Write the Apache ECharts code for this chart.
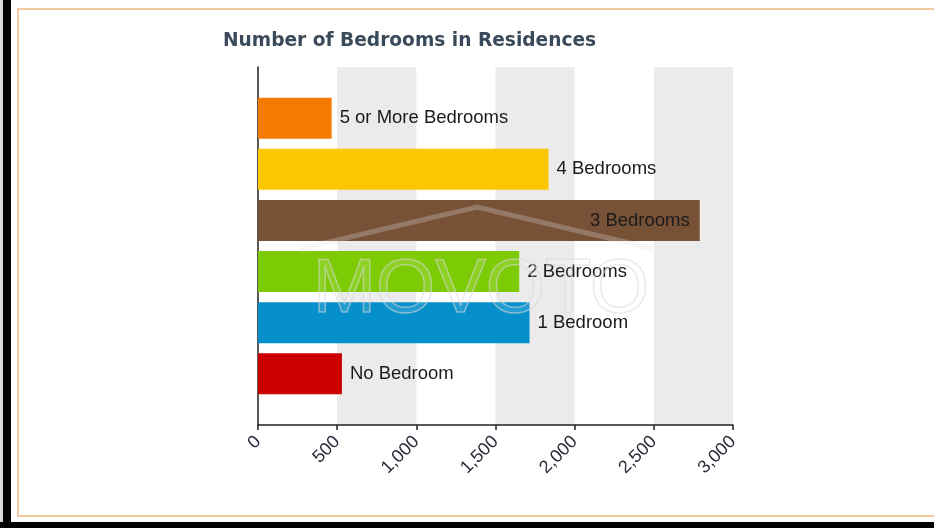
<!DOCTYPE html>
<html>
<head>
<meta charset="utf-8">
<script src="https://cdn.jsdelivr.net/npm/echarts@6/dist/echarts.min.js"></script>
<style>
html,body{margin:0;padding:0;background:#fff;}
#chart{width:934px;height:528px;}
</style>
</head>
<body>
<div id="chart"></div>
<script>
// Data (first item is drawn at the bottom)
const categories = ['No Bedroom', '1 Bedroom', '2 Bedrooms', '3 Bedrooms', '4 Bedrooms', '5 or More Bedrooms'];
const values = [530, 1715, 1650, 2790, 1835, 465];
const barColors = ['#CC0000', '#0590CB', '#7DCB05', '#775237', '#FDC602', '#F57A00'];
const xTicks = [0, 500, 1000, 1500, 2000, 2500, 3000];
const titleText = 'Number of Bedrooms in Residences';

const chart = echarts.init(document.getElementById('chart'), null, {renderer: 'canvas'});

const yData = [''].concat(categories).concat(['']);
const seriesData = ['-'].concat(values.map((v, i) => ({
  value: v,
  itemStyle: {color: barColors[i]},
  label: v > 2500 ? {position: 'insideRight', distance: 10} : {position: 'right', distance: 8}
}))).concat(['-']);

const option = {
  backgroundColor: '#fff',
  animation: false,
  title: {
    text: titleText,
    left: 218,
    top: 27,
    textStyle: {fontFamily: 'DejaVu Sans', fontWeight: 'bold', fontSize: 18.6, color: '#3B4A5B'}
  },
  grid: {left: 258, right: 201, top: 67, bottom: 103, containLabel: false},
  xAxis: {
    type: 'value',
    min: xTicks[0],
    max: xTicks[xTicks.length - 1],
    interval: 500,
    axisLine: {show: true, lineStyle: {color: '#222', width: 1.5}},
    axisTick: {show: true, length: 5, lineStyle: {color: '#222', width: 1.5}},
    axisLabel: {rotate: 45, margin: 14, color: '#2a2a3a', fontFamily: 'Liberation Sans', fontSize: 18},
    splitLine: {show: false},
    splitArea: {show: true, areaStyle: {color: ['rgba(255,255,255,0)', '#EBEBEB']}}
  },
  yAxis: {
    type: 'category',
    data: yData,
    boundaryGap: false,
    axisLine: {show: true, lineStyle: {color: '#222', width: 1.5}},
    axisTick: {show: false},
    axisLabel: {show: false},
    splitLine: {show: false}
  },
  series: [{
    type: 'bar',
    data: seriesData,
    barWidth: 41,
    label: {
      show: true,
      color: '#1a1a1a',
      fontFamily: 'Liberation Sans',
      fontSize: 18.5,
      formatter: p => categories[p.dataIndex - 1]
    }
  }],
  graphic: [
    {type: 'rect', silent: true, shape: {x: 0, y: 0, width: 3, height: 528}, style: {fill: '#d8d8d8'}},
    {type: 'rect', silent: true, shape: {x: 3, y: 0, width: 8, height: 528}, style: {fill: '#000'}},
    {type: 'rect', silent: true, shape: {x: 0, y: 522, width: 934, height: 6}, style: {fill: '#000'}},
    {type: 'rect', silent: true, shape: {x: 18, y: 9, width: 930, height: 507}, style: {fill: 'none', stroke: '#F3CB9E', lineWidth: 2}},
    {type: 'polyline', silent: true, z: 100, shape: {points: [[300, 250], [312, 246], [477, 207], [642, 246], [654, 250]]},
      style: {stroke: 'rgba(225,225,225,0.28)', lineWidth: 5, fill: 'none'}},
    {type: 'text', silent: true, z: 100, left: 312, top: 252,
      style: {text: 'MOVOTO', font: '76px "Liberation Sans"', fill: 'rgba(255,255,255,0.12)', stroke: 'rgba(215,215,215,0.55)', lineWidth: 1.5}}
  ]
};
chart.setOption(option);
</script>
</body>
</html>
